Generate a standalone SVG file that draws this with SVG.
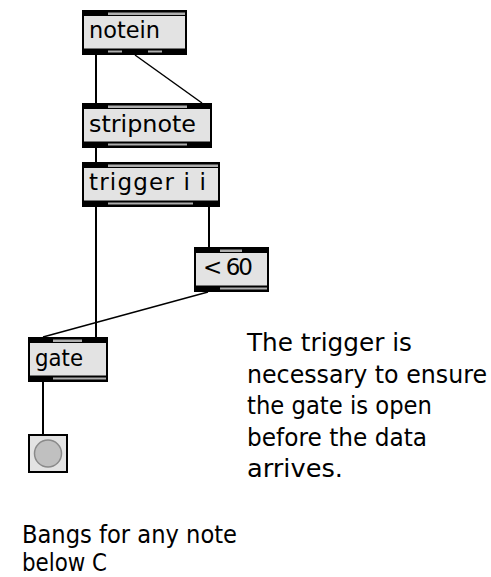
<svg xmlns="http://www.w3.org/2000/svg" width="491" height="577" viewBox="0 0 491 577">
<style>
.frame{fill:#000}
.face{fill:#e3e3e3}
.gap{fill:#aeaeae}
.lbl{font-family:"DejaVu Sans",Verdana,sans-serif;font-size:23px;fill:#000}
.cmt{font-family:"DejaVu Sans",Verdana,sans-serif;font-size:24px;fill:#000}
.wire{stroke:#000;stroke-width:2;fill:none}
.wire2{stroke:#000;stroke-width:1.5;fill:none}
</style>
<rect width="491" height="577" fill="#fff"/>
<g id="connectors">
<line class="wire" x1="96" y1="55" x2="96" y2="103"/>
<line class="wire2" x1="135" y1="55" x2="202" y2="103"/>
<line class="wire" x1="96" y1="148" x2="96" y2="162"/>
<line class="wire" x1="96" y1="207" x2="96" y2="337"/>
<line class="wire" x1="209" y1="207" x2="209" y2="247"/>
<line class="wire2" x1="208" y1="292" x2="43" y2="337"/>
<line class="wire" x1="43" y1="382" x2="43" y2="434"/>
</g>
<g id="notein">
<rect class="frame" x="82" y="10" width="105" height="45"/>
<rect class="face" x="84" y="16" width="101" height="32.5"/>
<rect class="gap" x="108" y="12.5" width="77" height="2.5"/>
<rect class="gap" x="108" y="50.5" width="14" height="2"/>
<rect class="gap" x="148" y="50.5" width="14" height="2"/>
<text class="lbl" x="89" y="38" textLength="71" lengthAdjust="spacingAndGlyphs">notein</text>
</g>
<g id="stripnote">
<rect class="frame" x="82" y="103" width="130" height="45"/>
<rect class="face" x="84" y="109" width="126" height="32.5"/>
<rect class="gap" x="108" y="105.5" width="79" height="2.5"/>
<rect class="gap" x="108" y="143.5" width="79" height="2"/>
<text class="lbl" x="89" y="131.5" textLength="107" lengthAdjust="spacingAndGlyphs">stripnote</text>
</g>
<g id="trigger">
<rect class="frame" x="82" y="162" width="138" height="45"/>
<rect class="face" x="84" y="168" width="134" height="32.5"/>
<rect class="gap" x="108" y="164.5" width="110" height="2.5"/>
<rect class="gap" x="108" y="202.5" width="85" height="2"/>
<text class="lbl" x="89" y="190" textLength="117" lengthAdjust="spacing">trigger i i</text>
</g>
<g id="lt60">
<rect class="frame" x="194" y="247" width="75" height="45"/>
<rect class="face" x="196" y="253" width="71" height="32.5"/>
<rect class="gap" x="220" y="249.5" width="22" height="2.5"/>
<rect class="gap" x="220" y="287.5" width="47" height="2"/>
<text class="lbl" x="203" y="275" textLength="50" lengthAdjust="spacing">&lt; 60</text>
</g>
<g id="gate">
<rect class="frame" x="28" y="337" width="80" height="45"/>
<rect class="face" x="30" y="343" width="76" height="32.5"/>
<rect class="gap" x="53" y="339.5" width="29" height="2.5"/>
<rect class="gap" x="53" y="377.5" width="53" height="2"/>
<text class="lbl" x="35" y="366" textLength="48" lengthAdjust="spacingAndGlyphs">gate</text>
</g>
<g id="bang">
<rect x="29" y="435" width="38" height="37" fill="#e3e3e3" stroke="#000" stroke-width="2"/>
<circle cx="48" cy="453.5" r="13.5" fill="#c0c0c0" stroke="#8a8a8a" stroke-width="1.5"/>
</g>
<g id="comment1">
<text class="cmt" x="247" y="351" textLength="165" lengthAdjust="spacingAndGlyphs">The trigger is</text>
<text class="cmt" x="247" y="382.5" textLength="240" lengthAdjust="spacingAndGlyphs">necessary to ensure</text>
<text class="cmt" x="247" y="414" textLength="185" lengthAdjust="spacingAndGlyphs">the gate is open</text>
<text class="cmt" x="247" y="445.5" textLength="180" lengthAdjust="spacingAndGlyphs">before the data</text>
<text class="cmt" x="247" y="477" textLength="96" lengthAdjust="spacingAndGlyphs">arrives.</text>
</g>
<g id="comment2">
<text class="cmt" x="22" y="543" textLength="215" lengthAdjust="spacingAndGlyphs">Bangs for any note</text>
<text class="cmt" x="22" y="571" textLength="85" lengthAdjust="spacingAndGlyphs">below C</text>
</g>
</svg>
